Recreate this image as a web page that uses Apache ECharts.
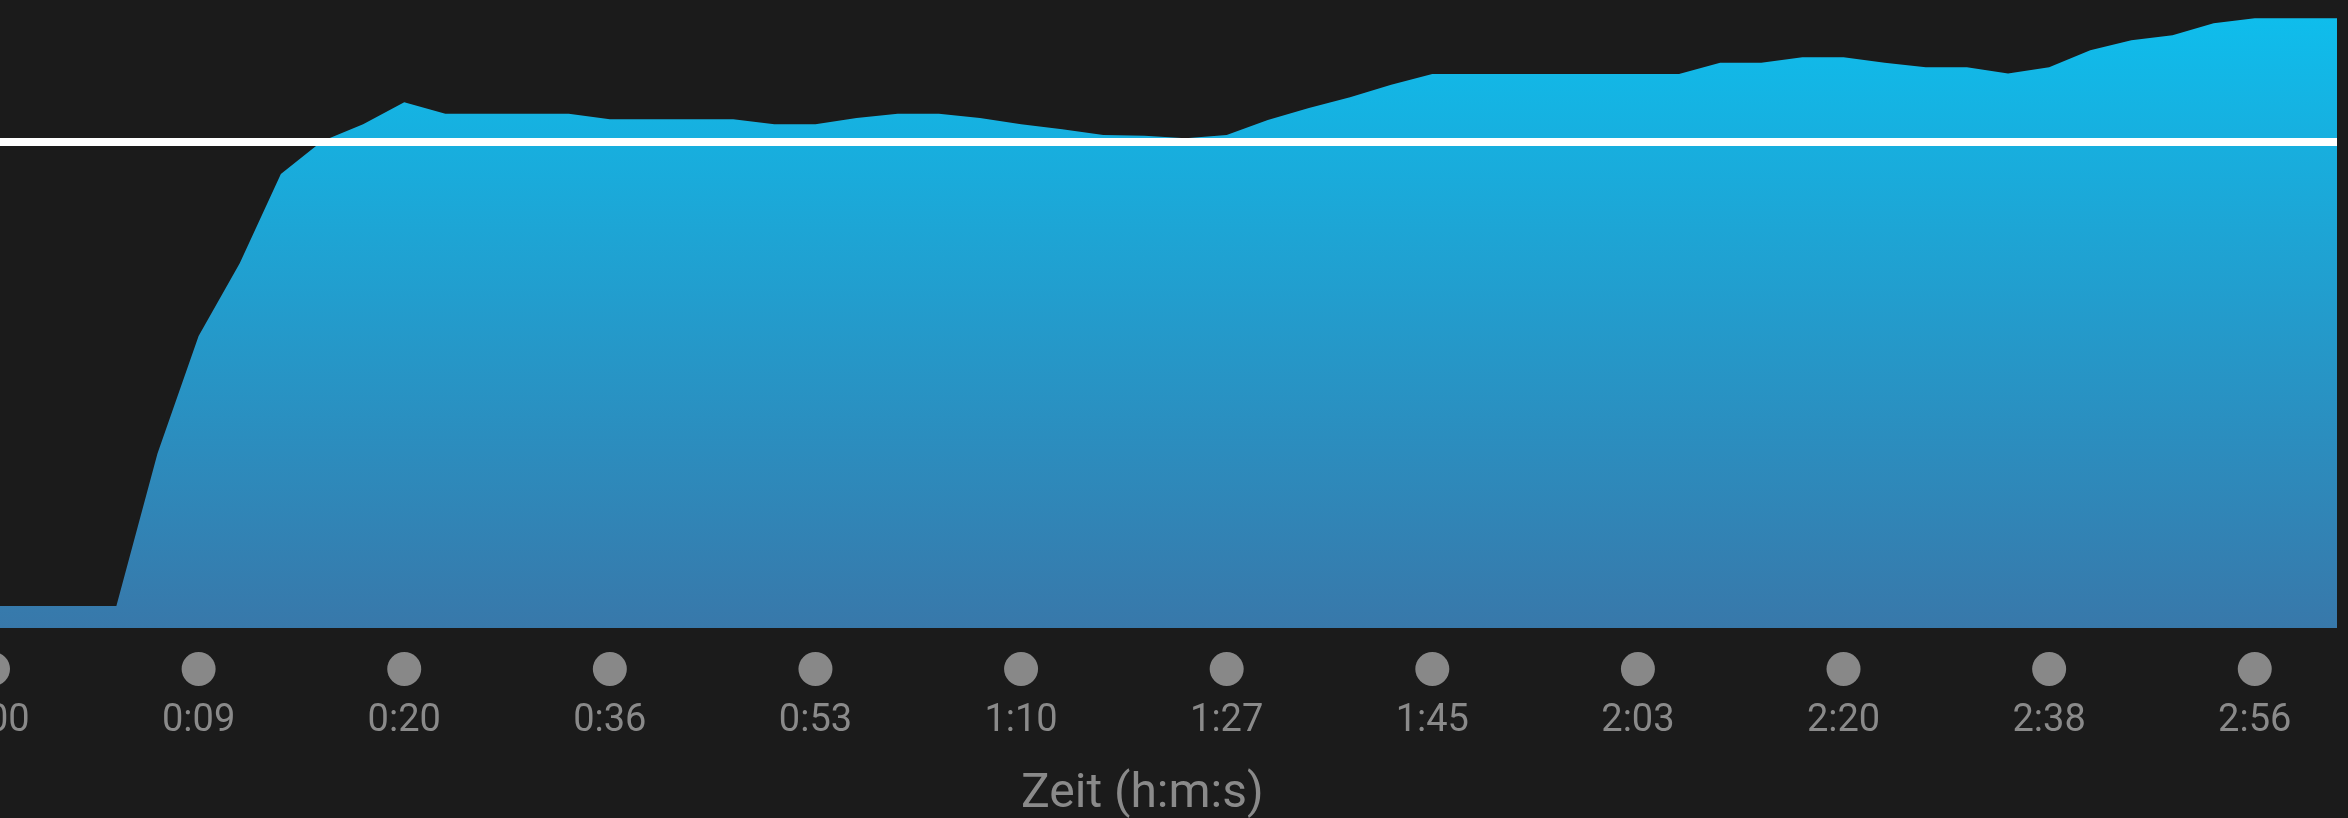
<!DOCTYPE html>
<html>
<head>
<meta charset="utf-8">
<script src="https://cdn.jsdelivr.net/npm/echarts@6/dist/echarts.min.js"></script>
<style>
  html, body { margin: 0; padding: 0; background: #1b1b1b; }
  #chart { width: 2348px; height: 818px; }
</style>
</head>
<body>
<div id="chart"></div>
<script>
// Sample values (relative intensity, % of plot height), one every sample step
const values = [
  3.5, 3.5, 3.5, 3.5, 27.8, 46.5, 58.1, 72.3, 77.5, 80.2,
  83.7, 81.9, 81.9, 81.9, 81.9, 81.0, 81.0, 81.0, 81.0, 80.2,
  80.2, 81.2, 81.9, 81.9, 81.2, 80.2, 79.4, 78.5, 78.4, 78.0,
  78.5, 80.9, 82.8, 84.5, 86.5, 88.2, 88.2, 88.2, 88.2, 88.2,
  88.2, 88.2, 90.0, 90.0, 90.9, 90.9, 90.0, 89.3, 89.3, 88.3,
  89.3, 92.0, 93.6, 94.4, 96.3, 97.1, 97.1, 97.1
];
// Time labels shown every 5 samples
const tickLabels = ['0:00', '0:09', '0:20', '0:36', '0:53', '1:10', '1:27', '1:45', '2:03', '2:20', '2:38', '2:56'];
const tickStep = 5;
// Reference line value
const referenceValue = 77.5;
const axisTitle = 'Zeit (h:m:s)';

const chart = echarts.init(document.getElementById('chart'), null, { renderer: 'canvas' });

const option = {
  backgroundColor: '#1b1b1b',
  animation: false,
  title: {
    text: axisTitle,
    left: 1021,
    top: 771,
    padding: 0,
    textStyle: {
      color: '#8a8a8a',
      fontFamily: 'Roboto',
      fontWeight: 'normal',
      fontSize: 48,
      lineHeight: 48
    }
  },
  grid: {
    left: -7, right: 11, top: 0, bottom: 190,
    containLabel: false,
    outerBoundsMode: 'none'
  },
  xAxis: {
    type: 'value',
    min: 0,
    max: values.length - 1,
    interval: tickStep,
    axisLine: { show: false },
    axisTick: { show: false },
    splitLine: { show: false },
    axisLabel: {
      show: true,
      margin: 24,
      showMinLabel: true,
      showMaxLabel: true,
      hideOverlap: false,
      formatter: function (v) {
        if (Math.abs(v % tickStep) > 1e-6) return '';
        const idx = Math.round(v / tickStep);
        const t = tickLabels[idx];
        if (t === undefined) return '';
        return '{dot| }\n{t|' + t + '}';
      },
      rich: {
        dot: {
          width: 34,
          height: 34,
          lineHeight: 34,
          borderRadius: 17,
          backgroundColor: '#888888',
          align: 'center'
        },
        t: {
          color: '#8a8a8a',
          fontFamily: 'Roboto',
          fontSize: 38,
          lineHeight: 70,
          align: 'center'
        }
      }
    }
  },
  yAxis: {
    type: 'value',
    min: 0,
    max: 100,
    show: false,
    splitLine: { show: false }
  },
  series: [{
    type: 'line',
    data: values.map((v, i) => [i, v]),
    showSymbol: false,
    symbol: 'none',
    smooth: false,
    silent: true,
    lineStyle: { width: 0, opacity: 0 },
    areaStyle: {
      opacity: 1,
      color: new echarts.graphic.LinearGradient(0, 0, 0, 1, [
        { offset: 0, color: '#0fbdec' },
        { offset: 1, color: '#3878aa' }
      ])
    },
    markLine: {
      silent: true,
      symbol: ['none', 'none'],
      label: { show: false },
      lineStyle: { color: '#ffffff', width: 8, type: 'solid', opacity: 1 },
      emphasis: { disabled: true },
      data: [{ yAxis: referenceValue }]
    }
  }]
};

chart.setOption(option);
</script>
</body>
</html>
